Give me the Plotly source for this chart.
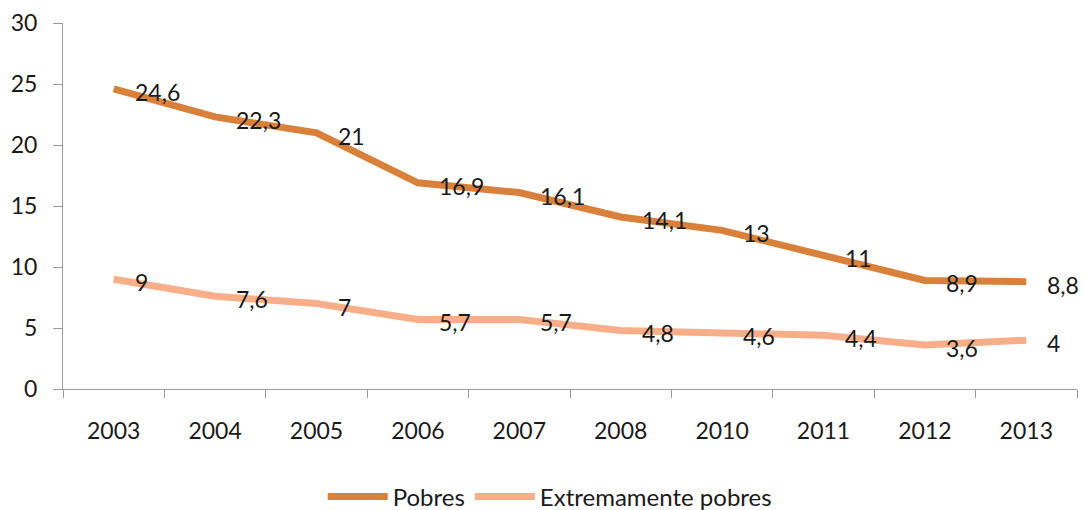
import plotly.graph_objects as go

years = ["2003", "2004", "2005", "2006", "2007", "2008", "2010", "2011", "2012", "2013"]
pobres = [24.6, 22.3, 21, 16.9, 16.1, 14.1, 13, 11, 8.9, 8.8]
extremos = [9, 7.6, 7, 5.7, 5.7, 4.8, 4.6, 4.4, 3.6, 4]
names = ["Pobres", "Extremamente pobres"]
colors = ["#D9803A", "#F7AE89"]
FONT = "Lato"
FS = 23

def fmt(v):
    return ("%g" % v).replace(".", ",")

fig = go.Figure()
for name, vals, col in zip(names, [pobres, extremos], colors):
    fig.add_trace(go.Scatter(x=years, y=vals, mode="lines", name=name,
                             line=dict(color=col, width=7)))
    for i, v in enumerate(vals):
        fig.add_annotation(x=i, y=v, xref="x", yref="y", text=fmt(v), showarrow=False,
                           xanchor="left", yanchor="middle",
                           xshift=19, yshift=-3,
                           font=dict(family=FONT, size=FS, color="#1a1a1a"))

fig.update_layout(
    width=1078, height=502,
    margin=dict(l=55, r=9, t=15, b=121, autoexpand=False),
    plot_bgcolor="white", paper_bgcolor="white",
    font=dict(family=FONT, size=FS, color="#1a1a1a"),
    showlegend=True,
    legend=dict(orientation="h", x=0.48, xanchor="center", y=-0.295, yanchor="middle",
                font=dict(family=FONT, size=24), itemwidth=60, tracegroupgap=0),
)
fig.update_xaxes(type="category", range=[-0.5, 9.5], showgrid=False, automargin=False,
                 showline=True, linecolor="#999999", linewidth=1,
                 ticks="outside", tickson="boundaries", ticklen=8, tickcolor="#999999",
                 ticklabelstandoff=21)
fig.update_yaxes(range=[0, 30], dtick=5, showgrid=False, zeroline=False, automargin=False,
                 showline=True, linecolor="#999999", linewidth=1,
                 ticks="outside", ticklen=9, tickcolor="#999999",
                 ticklabelstandoff=11)
fig.write_html("out.html")
